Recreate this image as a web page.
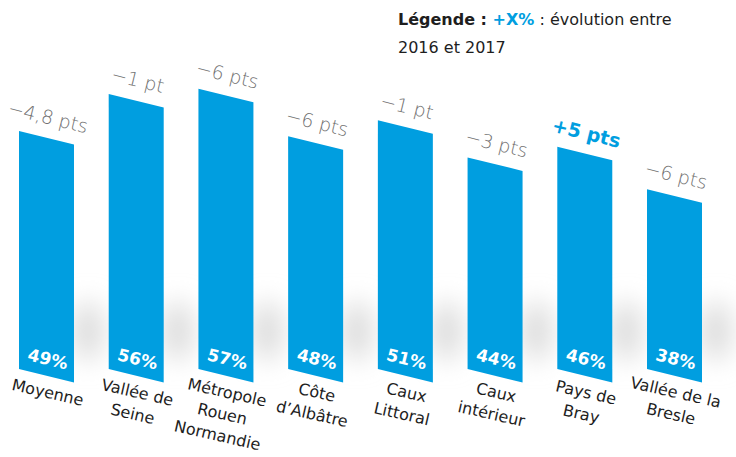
<!DOCTYPE html>
<html>
<head>
<meta charset="utf-8">
<script src="https://cdn.jsdelivr.net/npm/d3@7"></script>
<style>
  body { margin: 0; background: #fff; }
  svg { display: block; font-family: 'DejaVu Sans', sans-serif; }
</style>
</head>
<body>
<div id="chartContainer"></div>
<script>
// Data
const categories = [
  ['Moyenne'],
  ['Vallée de', 'Seine'],
  ['Métropole', 'Rouen', 'Normandie'],
  ['Côte', 'd’Albâtre'],
  ['Caux', 'Littoral'],
  ['Caux', 'intérieur'],
  ['Pays de', 'Bray'],
  ['Vallée de la', 'Bresle']
];
const values = [49, 56, 57, 48, 51, 44, 46, 38];
const evolution = ['−4,8 pts', '−1 pt', '−6 pts', '−6 pts', '−1 pt', '−3 pts', '+5 pts', '−6 pts'];
const positive = [false, false, false, false, false, false, true, false];

// Dimensions
const width = 736;
const height = 457;
const base = 369;      // bottom-left of the bars
const drop = 13.5;     // slant of the bar top/bottom
const angle = Math.atan2(drop, 55) * 180 / Math.PI;
const blue = '#009ee0';

const svg = d3
  .select('#chartContainer')
  .append('svg')
  .attr('width', width)
  .attr('height', height);

// shadow blur
const defs = svg.append('defs');
defs
  .append('filter')
  .attr('id', 'blur')
  .attr('x', '-100%')
  .attr('y', '-100%')
  .attr('width', '300%')
  .attr('height', '300%')
  .append('feGaussianBlur')
  .attr('stdDeviation', 13);

// Scales
const x = d3
  .scaleBand()
  .domain(d3.range(values.length))
  .range([19, 702])
  .paddingInner(0.387)
  .paddingOuter(0);
const y = d3
  .scaleLinear()
  .domain([4, 60])
  .range([base, base - 5.29 * 56]);

const bw = x.bandwidth();

// Shadows behind bars
svg
  .append('g')
  .selectAll('.shadow')
  .data(values)
  .enter()
  .append('ellipse')
  .attr('class', 'shadow')
  .attr('cx', (d, i) => x(i) + bw + 14)
  .attr('cy', base - 38)
  .attr('rx', 16)
  .attr('ry', 30)
  .attr('fill', '#dcdcdc')
  .attr('filter', 'url(#blur)');

// Bars (slanted parallelograms)
svg
  .append('g')
  .selectAll('.bar')
  .data(values)
  .enter()
  .append('path')
  .attr('class', 'bar')
  .attr('d', (d, i) => {
    const x0 = x(i);
    const x1 = x0 + bw;
    return `M${x0},${y(d)}L${x1},${y(d) + drop}L${x1},${base + drop}L${x0},${base}Z`;
  })
  .attr('fill', blue);

// Value labels inside bars
svg
  .append('g')
  .selectAll('.value')
  .data(values)
  .enter()
  .append('text')
  .attr('class', 'value')
  .attr('transform', (d, i) => `translate(${x(i) + bw / 2},${base + drop / 2 - 11}) rotate(${angle})`)
  .attr('text-anchor', 'middle')
  .attr('fill', '#fff')
  .attr('font-size', 17)
  .attr('font-weight', 'bold')
  .text(d => `${d}%`);

// Evolution labels above bars
svg
  .append('g')
  .selectAll('.evo')
  .data(values)
  .enter()
  .append('text')
  .attr('class', 'evo')
  .attr('transform', (d, i) => `translate(${x(i) + bw / 2},${y(d) + drop / 2 - 14}) rotate(${angle})`)
  .attr('text-anchor', 'middle')
  .attr('fill', (d, i) => positive[i] ? blue : '#707070')
  .attr('font-size', 19)
  .attr('font-family', (d, i) => positive[i] ? null : "'DejaVu Sans ExtraLight', 'DejaVu Sans'")
  .attr('font-weight', (d, i) => positive[i] ? 'bold' : 200)
  .text((d, i) => evolution[i]);

// Category labels under bars
const cats = svg
  .append('g')
  .selectAll('.cat')
  .data(categories)
  .enter()
  .append('text')
  .attr('class', 'cat')
  .attr('transform', (d, i) => `translate(${x(i) + bw / 2},${base + drop / 2 + 22}) rotate(${angle - 1})`)
  .attr('text-anchor', 'middle')
  .attr('fill', '#1e1e1e')
  .attr('font-size', 16);
cats
  .selectAll('tspan')
  .data(d => d)
  .enter()
  .append('tspan')
  .attr('x', 0)
  .attr('dy', (d, j) => j === 0 ? 0 : 22)
  .text(d => d);

// Legend
const legend = svg
  .append('text')
  .attr('x', 398)
  .attr('y', 25)
  .attr('font-size', 16)
  .attr('fill', '#1e1e1e');
legend.append('tspan').attr('font-weight', 'bold').text('Légende : ');
legend.append('tspan').attr('font-weight', 'bold').attr('fill', blue).text('+X%');
legend.append('tspan').text(' : évolution entre');
svg
  .append('text')
  .attr('x', 398)
  .attr('y', 53)
  .attr('font-size', 16)
  .attr('fill', '#1e1e1e')
  .text('2016 et 2017');
</script>
</body>
</html>
